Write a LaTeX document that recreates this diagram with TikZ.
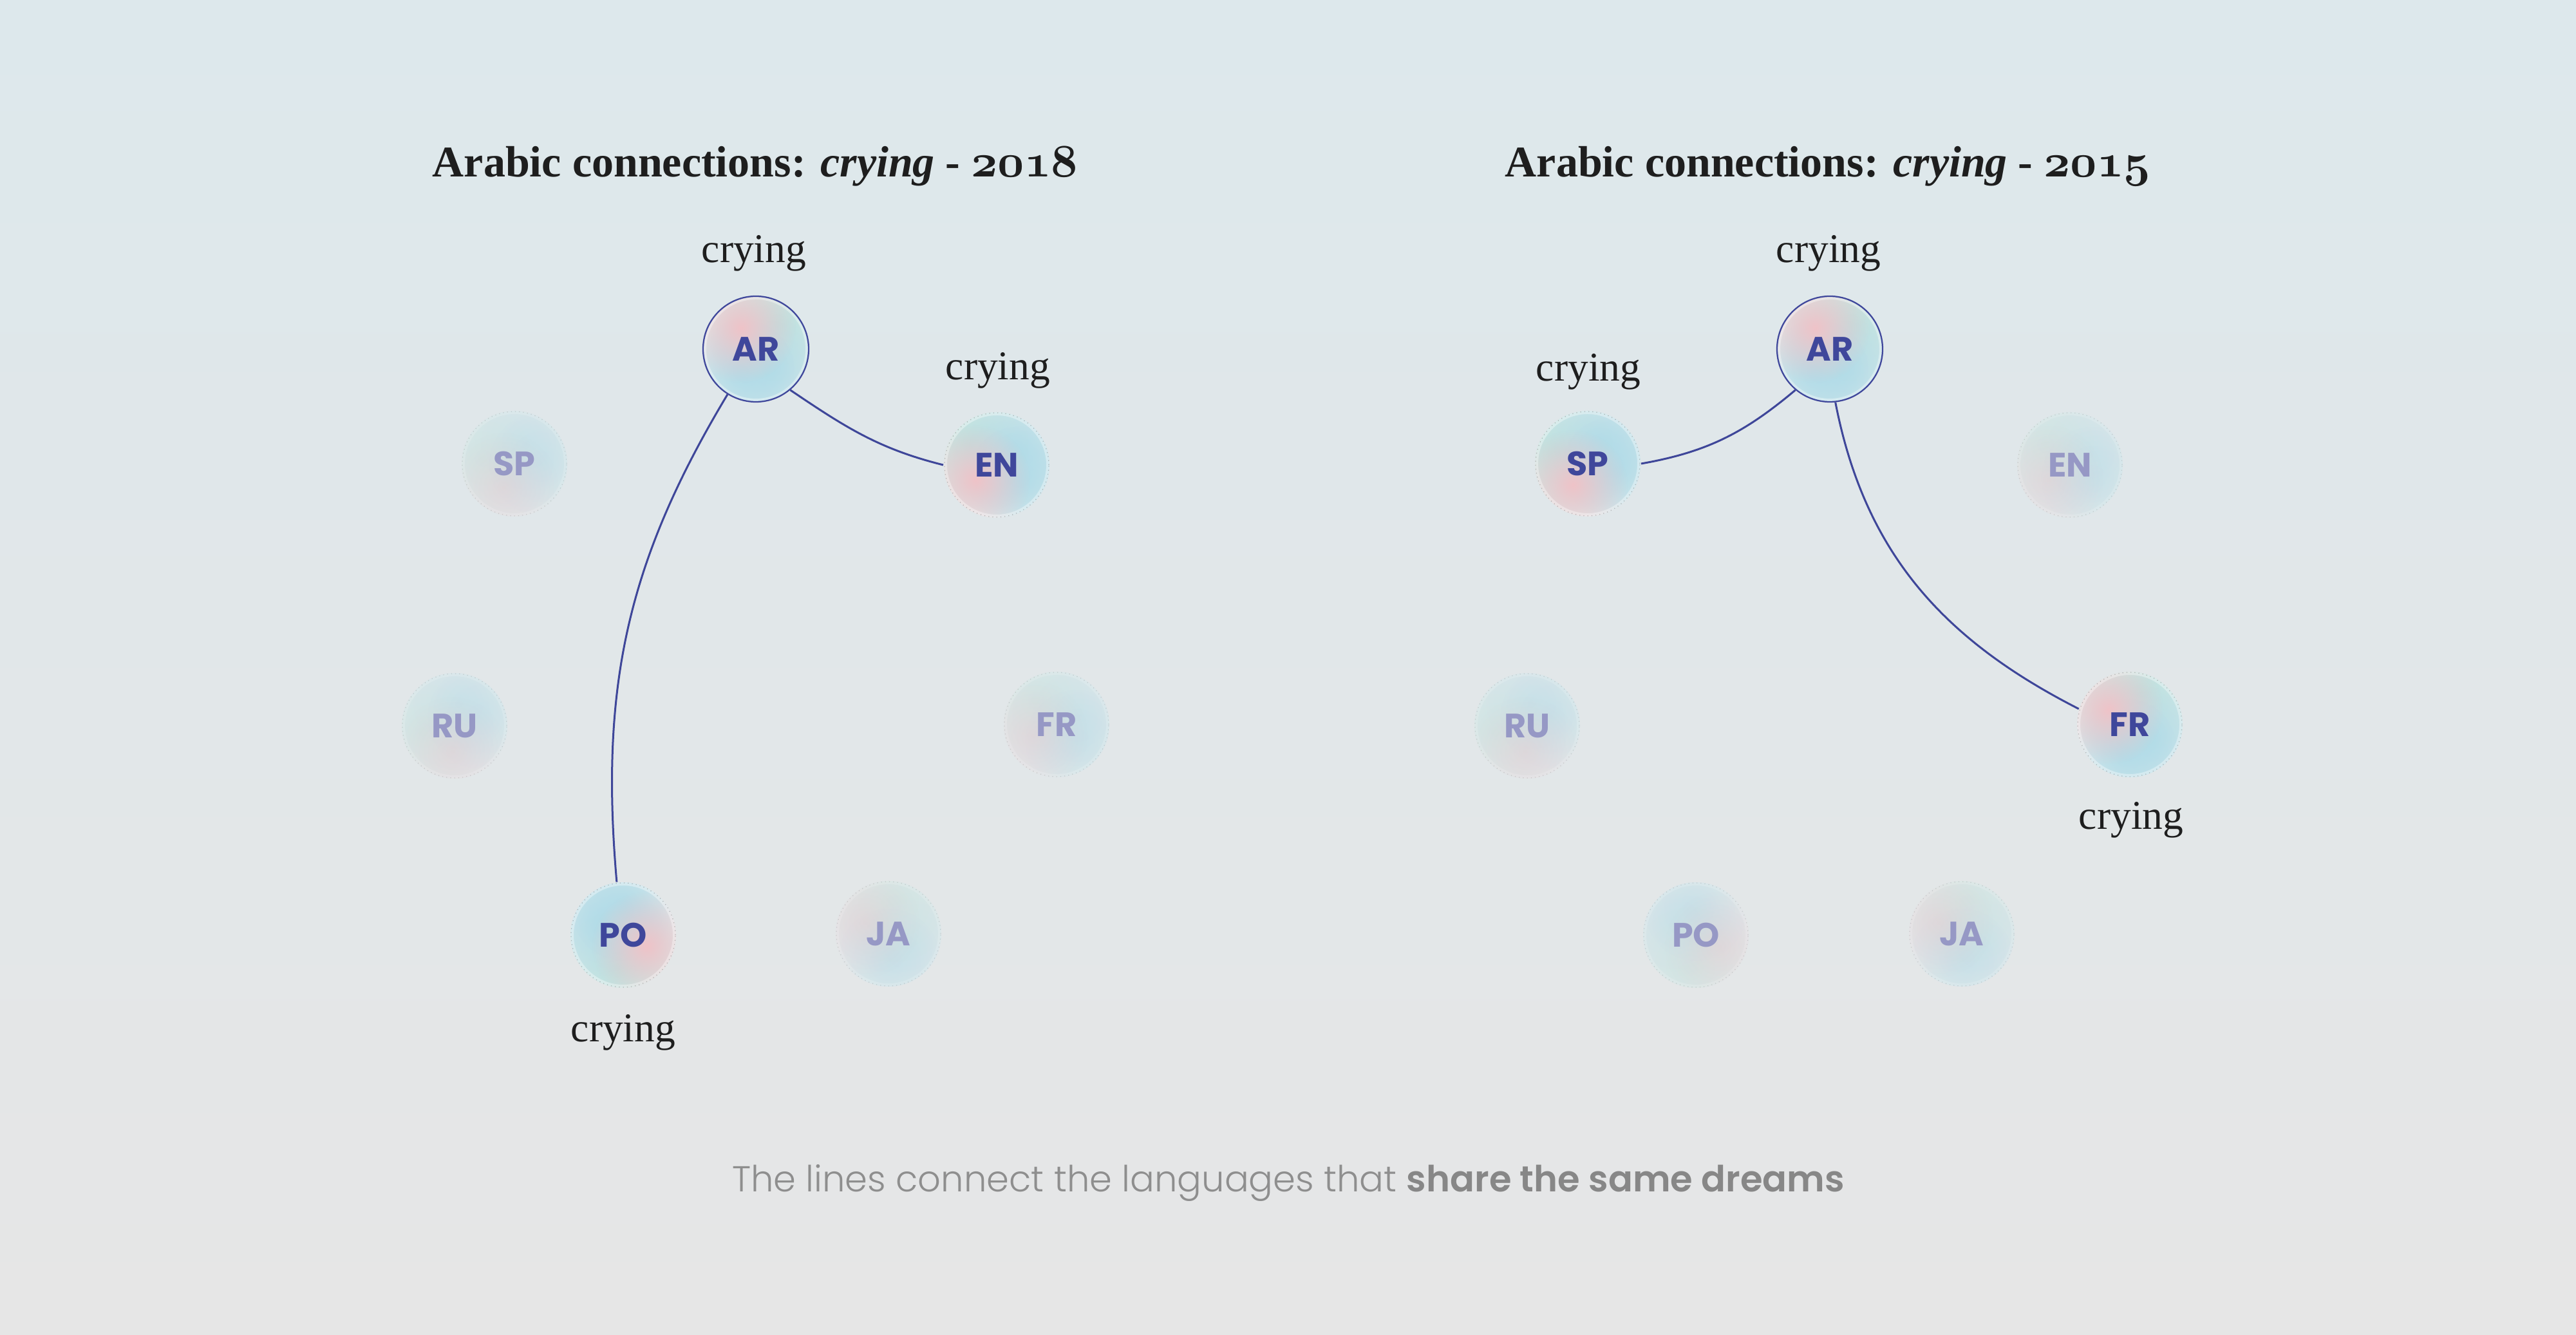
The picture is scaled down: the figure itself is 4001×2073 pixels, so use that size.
\documentclass[tikz,border=0pt]{standalone}
\usepackage{fontspec}
\setmainfont{Liberation Serif}
\newfontfamily\nodefont{Poppins}
\newfontfamily\capfont{Poppins Light}[BoldFont={Poppins SemiBold}]
\usetikzlibrary{fadings,calc}
\definecolor{bgtop}{HTML}{DDE8EC}
\definecolor{bgbot}{HTML}{E6E6E6}
\definecolor{actc}{HTML}{3F479B}
\definecolor{fadc}{HTML}{9698C5}
\definecolor{linkc}{HTML}{3E4699}
\definecolor{bbase}{HTML}{E6ECEC}
\definecolor{bblue}{HTML}{B2DCE8}
\definecolor{bpink}{HTML}{EFC3C8}
\definecolor{bmint}{HTML}{C4E5D9}
\definecolor{dotc}{HTML}{8A8A8A}
\definecolor{capc}{HTML}{8E8E8E}
\definecolor{capb}{HTML}{878787}
\definecolor{txtc}{HTML}{1E1E1E}
\tikzfading[name=soft, inner color=transparent!0, outer color=transparent!100]
\newcommand\bubfill[1]{%
  \coordinate (bc) at (path picture bounding box.center);
  \fill[bbase, fill opacity=\bubop] (bc) circle (17pt);
  \fill[bmint, fill opacity=\bubop, path fading=soft] ($(bc)+(#1+110:10pt)$) circle (22pt);
  \fill[bblue, fill opacity=\bubop, path fading=soft] ($(bc)+(#1:7pt)$) circle (27pt);
  \fill[bblue, fill opacity=\bubop, path fading=soft] ($(bc)+(#1-60:8pt)$) circle (16pt);
  \fill[bpink, fill opacity=\bubop, path fading=soft] ($(bc)+(#1+185:8pt)$) circle (17pt);
  \draw[white, line width=2pt, draw opacity=\bubrim] (bc) circle (16.4pt);
  \draw[dotc, densely dotted, line width=0.25pt, draw opacity=\bubdot] (bc) circle (16.2pt);
}
\tikzset{
  bub/.style={circle, minimum size=32.8pt, inner sep=0pt,
    font={\fontsize{10.5pt}{12pt}\nodefont\bfseries}, path picture={\bubfill{#1}}},
  act/.style={bub=#1, text=actc, /utils/exec={\def\bubop{1}\def\bubrim{0.35}\def\bubdot{0.55}}},
  fad/.style={bub=#1, text=fadc, /utils/exec={\def\bubop{0.38}\def\bubrim{0.15}\def\bubdot{0.3}}},
  hub/.style={bub=#1, text=actc, draw=actc, line width=0.45pt,
    /utils/exec={\def\bubop{1}\def\bubrim{0.35}\def\bubdot{0}}},
  link/.style={draw=linkc, line width=0.6pt},
  lab/.style={anchor=base, inner sep=0pt, text=txtc, font={\fontsize{12.7pt}{14pt}\selectfont}},
  ttl/.style={anchor=base, inner sep=0pt, text=txtc, font={\fontsize{13.6pt}{16pt}\selectfont\bfseries}},
  captxt/.style={anchor=base, inner sep=0pt, text=capc, font={\fontsize{11.2pt}{14pt}\capfont}},
}
\newcommand\osn[1]{{\usefont{OML}{cmm}{b}{it}#1}}
\begin{document}
\begin{tikzpicture}[x=0.2pt, y=-0.2pt]
\shade[top color=bgtop, bottom color=bgbot] (0,0) rectangle (4001,2073);
\useasboundingbox (0,0) rectangle (4001,2073);
% ---------- left panel ----------
\node[ttl] (t1) at (1173,275) {Arabic connections: \textit{crying} - \osn{2018}};
\node[hub=-60] (AR1) at (1174,542) {AR};
\node[fad=60] (SP1) at (799,720) {SP};
\node[act=30] (EN1) at (1548,722) {EN};
\node[fad=80] (RU1) at (706,1127) {RU};
\node[fad=20] (FR1) at (1641,1125) {FR};
\node[act=150] (PO1) at (968,1452) {PO};
\node[fad=-30] (JA1) at (1380,1450) {JA};
\node[lab] (l1a) at (1171,408) {crying};
\node[lab] (l1b) at (1550,590) {crying};
\node[lab] (l1c) at (968,1618) {crying};
\draw[link] (AR1.-50) to[out=-34, in=166] (EN1.west);
\draw[link] (AR1.-122) to[out=-121, in=95] (PO1.97);
% ---------- right panel ----------
\node[ttl] (t2) at (2839,275) {Arabic connections: \textit{crying} - \osn{2015}};
\node[hub=-60] (AR2) at (2842,542) {AR};
\node[act=50] (SP2) at (2466,720) {SP};
\node[fad=30] (EN2) at (3215,722) {EN};
\node[fad=80] (RU2) at (2372,1127) {RU};
\node[act=-40] (FR2) at (3308,1125) {FR};
\node[fad=150] (PO2) at (2634,1452) {PO};
\node[fad=-30] (JA2) at (3047,1450) {JA};
\node[lab] (l2a) at (2840,408) {crying};
\node[lab] (l2b) at (2467,592) {crying};
\node[lab] (l2c) at (3310,1288) {crying};
\draw[link] (AR2.-130) to[out=-140, in=10] (SP2.east);
\draw[link] (AR2.-84) to[out=-79, in=153] (FR2.163);
% ---------- caption ----------
\node[captxt] (caption) at (2001,1851) {The lines connect the languages that \textcolor{capb}{\bfseries share the same dreams}};
\end{tikzpicture}
\end{document}
